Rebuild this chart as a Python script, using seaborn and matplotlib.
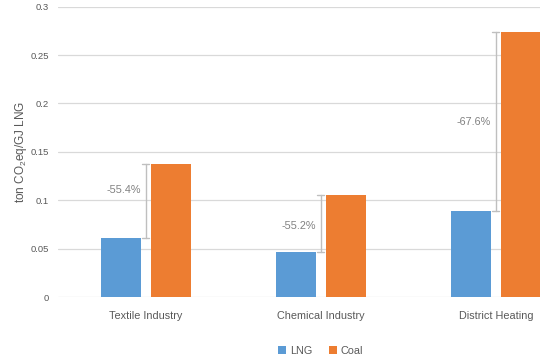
import matplotlib
matplotlib.use("Agg")
import matplotlib.pyplot as plt
import seaborn as sns
import pandas as pd

categories = ["Textile Industry", "Chemical Industry", "District Heating"]
lng = [0.061, 0.047, 0.0887]
coal = [0.137, 0.105, 0.274]
reductions = ["-55.4%", "-55.2%", "-67.6%"]
yticks = [0, 0.05, 0.1, 0.15, 0.2, 0.25, 0.3]
ytick_labels = ["0", "0.05", "0.1", "0.15", "0.2", "0.25", "0.3"]

df = pd.DataFrame({
    "category": categories * 2,
    "fuel": ["LNG"] * 3 + ["Coal"] * 3,
    "value": lng + coal,
})

sns.set_style("white")
plt.rcParams["font.family"] = ["Liberation Sans", "DejaVu Sans"]
plt.rcParams["mathtext.default"] = "regular"

fig = plt.figure(figsize=(5.4, 3.63), dpi=100)
ax = fig.add_axes([0.1083, 0.1818, 0.9722, 0.7997])

sns.barplot(data=df, x="category", y="value", hue="fuel",
            palette={"LNG": "#5B9BD5", "Coal": "#ED7D31"}, saturation=1,
            width=0.571, gap=0.2, ax=ax, linewidth=0, errorbar=None)

ax.set_xlim(-0.5, 2.5)
ax.set_ylim(0, 0.3)
ax.set_yticks(yticks)
ax.set_yticklabels(ytick_labels)
ax.yaxis.grid(True, color="#d9d9d9", linewidth=0.9)
ax.set_axisbelow(True)
for s in ax.spines.values():
    s.set_visible(False)
ax.tick_params(axis="y", length=0, pad=7, labelsize=6.8, labelcolor="#595959")
ax.tick_params(axis="x", length=0, pad=10, labelsize=7.8, labelcolor="#595959")
ax.set_xlabel("")
ax.set_ylabel("ton CO$_2$eq/GJ LNG", fontsize=8.5, color="#595959")
ax.yaxis.set_label_coords(-0.056, 0.5)

label_frac = [0.65, 0.45, 0.5]
for i, (lo, hi, txt) in enumerate(zip(lng, coal, reductions)):
    ax.plot([i, i], [lo, hi], color="#bfbfbf", lw=1, zorder=3)
    ax.plot([i - 0.02, i + 0.02], [lo, lo], color="#bfbfbf", lw=1, zorder=3)
    ax.plot([i - 0.02, i + 0.02], [hi, hi], color="#bfbfbf", lw=1, zorder=3)
    ax.text(i - 0.03, lo + (hi - lo) * label_frac[i], txt, ha="right", va="center",
            fontsize=7.8, color="#808080")

leg = ax.legend(loc="upper center", bbox_to_anchor=(0.5, -0.135), ncol=2, frameon=False,
                fontsize=7.8, handlelength=0.7, handleheight=0.7, handletextpad=0.4,
                columnspacing=1.5)
for t in leg.get_texts():
    t.set_color("#595959")

fig.savefig("out.png", dpi=100)
